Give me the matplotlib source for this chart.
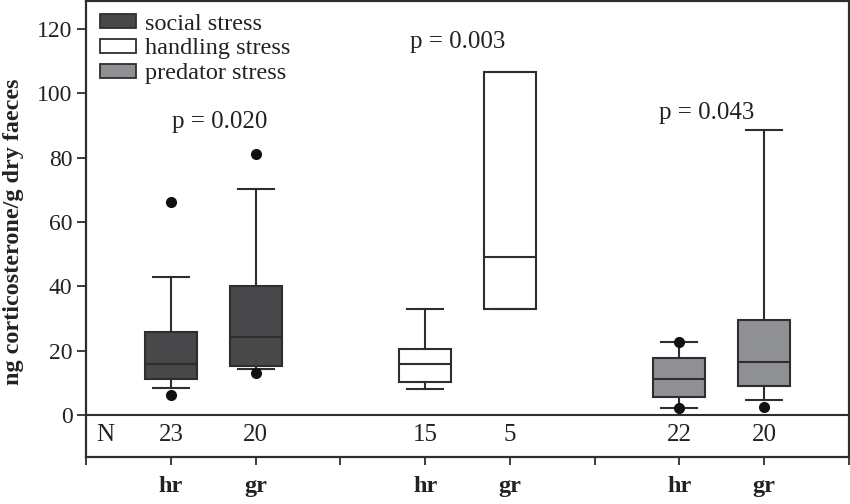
import matplotlib
matplotlib.use('Agg')
import matplotlib.pyplot as plt
from matplotlib.patches import Patch

plt.rcParams['font.family'] = ['Liberation Serif', 'DejaVu Serif']

# box statistics (ng corticosterone / g dry faeces)
labels = ['hr', 'gr', 'hr', 'gr', 'hr', 'gr']
groups = ['social stress', 'social stress', 'handling stress', 'handling stress',
          'predator stress', 'predator stress']
q1 = [11.3, 15.4, 10.2, 32.9, 5.5, 9.0]
med = [15.8, 24.4, 15.8, 49.2, 11.1, 16.4]
q3 = [25.7, 40.0, 20.5, 106.6, 17.9, 29.7]
whislo = [8.4, 14.2, 8.0, 32.9, 2.3, 4.7]
whishi = [42.9, 70.1, 33.0, 106.6, 22.8, 88.7]
fliers = [[66.2, 6.3], [81.0, 13.0], [], [], [22.8, 2.2], [2.6]]
n_vals = [23, 20, 15, 5, 22, 20]
p_texts = ['p = 0.020', 'p = 0.003', 'p = 0.043']
p_y = [91, 116, 94]

colors = {'social stress': '#48484a', 'handling stress': '#ffffff',
          'predator stress': '#8f9094'}
edge = '#2e2e2e'

positions = [1, 2, 4, 5, 7, 8]

fig = plt.figure(figsize=(8.5, 5.04), dpi=100)
ax = fig.add_axes([86.3 / 850, 1 - 457 / 504, (848.7 - 86.3) / 850, (457 - 0.8) / 504])

stats = []
for i in range(len(labels)):
    stats.append(dict(label=labels[i], q1=q1[i], med=med[i], q3=q3[i],
                      whislo=whislo[i], whishi=whishi[i], fliers=fliers[i]))

bp = ax.bxp(stats, positions=positions, widths=0.61, capwidths=0.43,
            patch_artist=True, showfliers=True,
            boxprops=dict(edgecolor=edge, linewidth=1.5),
            whiskerprops=dict(color=edge, linewidth=1.5),
            capprops=dict(color=edge, linewidth=1.5),
            medianprops=dict(color=edge, linewidth=1.5),
            flierprops=dict(marker='o', markersize=7, markerfacecolor='#111111',
                            markeredgecolor='#111111'))
for patch, g in zip(bp['boxes'], groups):
    patch.set_facecolor(colors[g])

ax.axhline(0, color=edge, linewidth=1.5, zorder=1)

ax.set_xlim(0, 9)
ax.set_ylim(-13, 128.7)
ax.set_yticks(range(0, 121, 20))
ax.set_xticks(range(0, 10))
ax.set_xticklabels(['', 'hr', 'gr', '', 'hr', 'gr', '', 'hr', 'gr', ''],
                   fontweight='bold', fontsize=17.5)
ax.tick_params(axis='y', direction='out', length=6.5, width=1.3, pad=3.5,
               labelsize=17, colors=edge, labelcolor='#222222')
ax.tick_params(axis='x', direction='out', length=6, width=1.3, pad=8,
               colors=edge, labelcolor='#222222')
for s in ax.spines.values():
    s.set_linewidth(1.6)
    s.set_color(edge)

ax.set_ylabel('ng corticosterone/g dry faeces', fontsize=17.4, fontweight='bold',
              color='#222222')
ax.yaxis.set_label_coords(-0.082, 0.4945)

# N row
ax.text(0.22, -6.3, 'N', fontsize=18, ha='center', va='center', color='#222222')
for x, n in zip(positions, n_vals):
    ax.text(x, -6.3, str(n), fontsize=18, ha='center', va='center', color='#222222')

# p values
for x, t, y in zip([1.58, 4.39, 7.32], p_texts, p_y):
    ax.text(x, y, t, fontsize=18, ha='center', va='center', color='#222222')

handles = [Patch(facecolor=colors[g], edgecolor=edge, linewidth=1.3)
           for g in ['social stress', 'handling stress', 'predator stress']]
ax.legend(handles, ['social stress', 'handling stress', 'predator stress'],
          loc='upper left', bbox_to_anchor=(0.018, 0.972), frameon=False,
          fontsize=17.5, handlelength=1.5, handleheight=0.5, handletextpad=0.35,
          labelspacing=0.16, borderpad=0, borderaxespad=0, labelcolor='#222222')

fig.savefig('out.png', dpi=100)
